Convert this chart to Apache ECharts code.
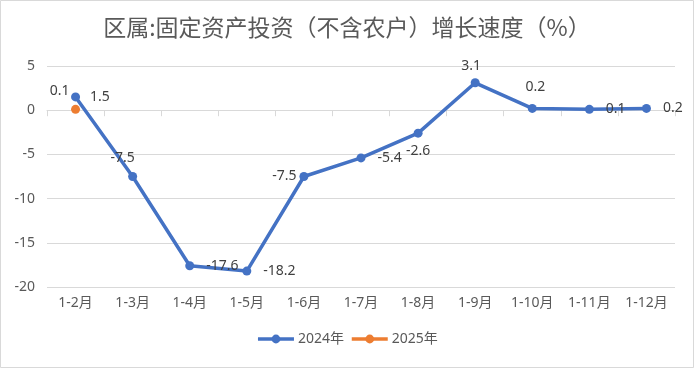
<!DOCTYPE html>
<html><head><meta charset="utf-8">
<script src="https://cdn.jsdelivr.net/npm/echarts@6/dist/echarts.min.js"></script>
<style>html,body{margin:0;padding:0;background:#fff}#c{width:694px;height:368px}</style>
</head><body><div id="c"></div>
<script>
const titleText = '区属:固定资产投资（不含农户）增长速度（%）';
const categories = ['1-2月','1-3月','1-4月','1-5月','1-6月','1-7月','1-8月','1-9月','1-10月','1-11月','1-12月'];
const seriesNames = ['2024年','2025年'];
const values2024 = [1.5,-7.5,-17.6,-18.2,-7.5,-5.4,-2.6,3.1,0.2,0.1,0.2];
const values2025 = [0.1,null,null,null,null,null,null,null,null,null,null];
const yMin = -20, yMax = 5, yStep = 5;

// label placement styles (not data)
const labels2024 = [
  {position:'right', distance:10},
  {position:'top', distance:7, offset:[-10,0]},
  {position:'right', distance:12},
  {position:'right', distance:12},
  {position:'left', distance:3},
  {position:'right', distance:12},
  {position:'bottom', distance:6},
  {position:'top', distance:5, offset:[-4,0]},
  {position:'top', distance:10, offset:[3,0]},
  {position:'right', distance:12},
  {position:'right', distance:12}
];
const labels2025 = [{position:'top', distance:7, offset:[-16,0]}];

const labelFont = {fontSize:14, color:'#404040', fontFamily:'"Noto Sans", "Noto Sans CJK SC", sans-serif'};

const chart = echarts.init(document.getElementById('c'), null, {renderer:'canvas'});
chart.setOption({
  animation:false,
  backgroundColor:'#fff',
  title:{text:titleText, left:'center', top:11, textStyle:{fontSize:23, fontWeight:'normal', color:'#595959', fontFamily:'"Noto Sans CJK SC", sans-serif'}},
  grid:{left:47, right:19, top:66, bottom:81, containLabel:false},
  legend:{bottom:17, left:'center', itemWidth:36, itemHeight:11, itemGap:6,
    lineStyle:{width:3.5},
    textStyle:{fontSize:14, color:'#595959', padding:[0,0,0,-1], fontFamily:'"Noto Sans", "Noto Sans CJK SC", sans-serif'},
    data:seriesNames},
  xAxis:[
    {type:'category', data:categories, position:'bottom', boundaryGap:true,
     axisLine:{show:false, onZero:false}, axisTick:{show:false},
     axisLabel:{fontSize:14, color:'#595959', margin:9, fontFamily:'"Noto Sans", "Noto Sans CJK SC", sans-serif'}},
    {type:'category', data:categories, position:'top', boundaryGap:true,
     axisLine:{show:true, onZero:true, lineStyle:{color:'#d9d9d9', width:1}},
     axisTick:{show:true, inside:true, length:6, lineStyle:{color:'#d9d9d9'}},
     axisLabel:{show:false}, splitLine:{show:false}}
  ],
  yAxis:{type:'value', min:yMin, max:yMax, interval:yStep,
    axisLine:{show:false}, axisTick:{show:false},
    axisLabel:{fontSize:14, color:'#595959', margin:12, fontFamily:'"Noto Sans", sans-serif'},
    splitLine:{lineStyle:{color:'#d9d9d9', width:1}}},
  series:[
    {name:seriesNames[0], type:'line', xAxisIndex:0, data:values2024.map((v,i)=>({value:v, label:labels2024[i]})),
     symbol:'circle', symbolSize:9, showAllSymbol:true,
     lineStyle:{color:'#4472C4', width:3.5}, itemStyle:{color:'#4472C4'},
     label:Object.assign({show:true}, labelFont), z:3},
    {name:seriesNames[1], type:'line', xAxisIndex:0, data:values2025.map((v,i)=>({value:v, label:labels2025[i]||{}})),
     symbol:'circle', symbolSize:9,
     lineStyle:{color:'#ED7D31', width:3.5}, itemStyle:{color:'#ED7D31'},
     label:Object.assign({show:true}, labelFont), z:4}
  ],
  graphic:[{type:'rect', shape:{x:0.5, y:0.5, width:693, height:367}, style:{fill:'none', stroke:'#d9d9d9', lineWidth:1}, silent:true}]
});
</script></body></html>
